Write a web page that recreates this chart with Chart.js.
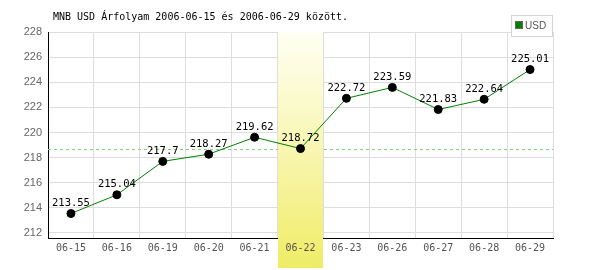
<!DOCTYPE html>
<html>
<head>
<meta charset="utf-8">
<script src="https://cdn.jsdelivr.net/npm/chart.js@4.4.1/dist/chart.umd.min.js"></script>
<style>
  html, body { margin: 0; padding: 0; background: #fff; }
  #wrap { width: 600px; height: 270px; position: relative; }
</style>
</head>
<body>
<div id="wrap"><canvas id="rateChart" width="600" height="270"></canvas></div>
<script>
// ---- data ----
const days = ["06-15", "06-16", "06-19", "06-20", "06-21", "06-22", "06-23", "06-26", "06-27", "06-28", "06-29"];
const usdRates = [213.55, 215.04, 217.7, 218.27, 219.62, 218.72, 222.72, 223.59, 221.83, 222.64, 225.01];
const yTicks = [212, 214, 216, 218, 220, 222, 224, 226, 228];
const highlightIndex = 5;
const titleText = "MNB USD Árfolyam 2006-06-15 és 2006-06-29 között.";

const MONO = "'DejaVu Sans Mono', monospace";
const SANS = "'Liberation Sans', Arial, sans-serif";

// ---- extra drawing: reference line, highlight column, labels, legend, title ----
const decorPlugin = {
  id: "decor",
  beforeDatasetsDraw(chart) {
    const { ctx, chartArea, scales } = chart;
    const x = scales.x, y = scales.y;
    const half = (x.getPixelForValue(1) - x.getPixelForValue(0)) / 2;
    const cx = x.getPixelForValue(highlightIndex);
    const left = Math.round(cx - half), right = Math.round(cx + half);
    const top = chartArea.top, bottom = chart.height - 2;

    ctx.save();
    // dashed line at the highlighted day's value
    const ly = Math.round(y.getPixelForValue(usdRates[highlightIndex])) + 0.5;
    ctx.strokeStyle = "#80d080";
    ctx.lineWidth = 1;
    ctx.setLineDash([3, 3]);
    ctx.beginPath();
    ctx.moveTo(chartArea.left, ly);
    ctx.lineTo(chartArea.right, ly);
    ctx.stroke();
    ctx.setLineDash([]);

    const g = ctx.createLinearGradient(0, top, 0, bottom);
    g.addColorStop(0, "#fffff4");
    g.addColorStop(0.5, "#f8f6b0");
    g.addColorStop(1, "#f0ec66");
    ctx.fillStyle = g;
    ctx.fillRect(left, top, right - left, bottom - top);

    // redraw the covered tick label
    ctx.fillStyle = "#555";
    ctx.font = "10px " + MONO;
    ctx.textAlign = "center";
    ctx.textBaseline = "middle";
    ctx.fillText(days[highlightIndex], cx, 248);
    ctx.restore();
  },
  afterDatasetsDraw(chart) {
    const { ctx } = chart;
    const meta = chart.getDatasetMeta(0);
    ctx.save();
    ctx.fillStyle = "#000";
    ctx.font = "10.5px " + MONO;
    ctx.textAlign = "center";
    ctx.textBaseline = "bottom";
    meta.data.forEach((pt, i) => {
      ctx.fillText(String(usdRates[i]), pt.x, pt.y - 5);
    });
    ctx.restore();
  },
  afterDraw(chart) {
    const { ctx } = chart;
    ctx.save();
    // title
    ctx.fillStyle = "#000";
    ctx.font = "10px " + MONO;
    ctx.textAlign = "left";
    ctx.textBaseline = "middle";
    ctx.fillText(titleText, 53, 17);

    // legend box
    ctx.fillStyle = "#fff";
    ctx.fillRect(512, 16, 40, 20);
    ctx.strokeStyle = "#d4d4d4";
    ctx.lineWidth = 1;
    ctx.strokeRect(511.5, 15.5, 41, 21);
    ctx.fillStyle = "#008000";
    ctx.fillRect(516, 22, 7, 7);
    ctx.strokeStyle = "#666";
    ctx.strokeRect(515.5, 21.5, 7, 7);
    ctx.fillStyle = "#555";
    ctx.font = "10px " + SANS;
    ctx.fillText("USD", 525, 26);
    ctx.restore();
  }
};

const initRateChart = () => {
  const ctx = document.getElementById("rateChart").getContext("2d");
  new Chart(ctx, {
    type: "line",
    data: {
      labels: days,
      datasets: [{
        label: "USD",
        data: usdRates,
        borderColor: "#008000",
        borderWidth: 1,
        tension: 0,
        pointRadius: 4,
        pointBackgroundColor: "#000",
        pointBorderColor: "#000",
        pointBorderWidth: 1,
        fill: false,
      }],
    },
    options: {
      responsive: false,
      animation: false,
      devicePixelRatio: 1,
      layout: { padding: { top: 32, right: 47, left: 0, bottom: 0 } },
      plugins: {
        legend: { display: false },
        tooltip: { enabled: false },
        title: { display: false },
      },
      scales: {
        x: {
          offset: true,
          grid: { offset: true, color: "#dddddd", drawTicks: false },
          border: { color: "#000", width: 1 },
          ticks: {
            color: "#555",
            font: { family: MONO, size: 10 },
            padding: 4,
            maxRotation: 0,
            autoSkip: false,
          },
          afterFit: s => { s.height = 32; },
        },
        y: {
          min: 211.6,
          max: 228,
          grid: { color: "#dddddd", drawTicks: false },
          border: { color: "#000", width: 1 },
          ticks: {
            color: "#666",
            font: { family: SANS, size: 11 },
            padding: 6,
          },
          afterBuildTicks: s => { s.ticks = yTicks.map(v => ({ value: v })); },
          afterFit: s => { s.width = 48; },
        },
      },
    },
    plugins: [decorPlugin],
  });
};

window.addEventListener("DOMContentLoaded", initRateChart);
</script>
</body>
</html>
